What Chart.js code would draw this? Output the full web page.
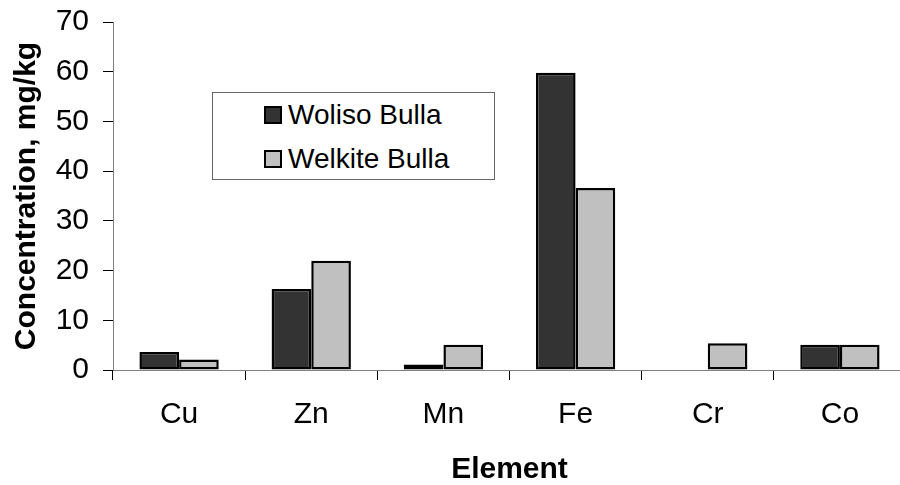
<!DOCTYPE html>
<html>
<head>
<meta charset="utf-8">
<script src="https://cdn.jsdelivr.net/npm/chart.js@4/dist/chart.umd.min.js"></script>
<style>
  html, body { margin: 0; padding: 0; background: #fff; overflow: hidden; }
  #wrap { position: relative; width: 906px; height: 485px; }
  #legend {
    position: absolute; left: 212px; top: 92px; width: 281px; height: 86px;
    border: 1px solid #666; background: #fff;
    font-family: 'Liberation Sans', Arial, sans-serif; font-size: 28px; color: #000;
  }
  #legend .item { position: absolute; left: 51px; height: 32px; line-height: 32px; white-space: nowrap; }
  #legend .box { display: inline-block; width: 14px; height: 14px; border: 2px solid #000; vertical-align: middle; margin-right: 6px; margin-top: -4px; }
</style>
</head>
<body>
<div id="wrap">
  <canvas id="chart" width="906" height="485"></canvas>
  <div id="legend"></div>
</div>
<script>
const elements = ['Cu', 'Zn', 'Mn', 'Fe', 'Cr', 'Co'];
const wolisoBulla = [3.6, 16.3, 1.1, 59.8, null, 5.1];
const welkiteBulla = [2.1, 22.0, 5.1, 36.6, 5.4, 5.1];
const yTicks = [0, 10, 20, 30, 40, 50, 60, 70];

const font = "'Liberation Sans', Arial, sans-serif";

const chart = new Chart(document.getElementById('chart'), {
  type: 'bar',
  data: {
    labels: elements,
    datasets: [
      {
        label: 'Woliso Bulla',
        data: wolisoBulla,
        backgroundColor: '#333333',
        borderColor: '#000',
        borderWidth: 2.5,
        borderSkipped: false
      },
      {
        label: 'Welkite Bulla',
        data: welkiteBulla,
        backgroundColor: '#c0c0c0',
        borderColor: '#000',
        borderWidth: 2.5,
        borderSkipped: false
      }
    ]
  },
  options: {
    responsive: false,
    animation: false,
    events: [],
    layout: { padding: { left: 0, top: 22, right: 0, bottom: 0 } },
    datasets: { bar: { categoryPercentage: 0.6, barPercentage: 1.0 } },
    plugins: { legend: { display: false }, tooltip: { enabled: false } },
    scales: {
      x: {
        grid: { drawOnChartArea: false, drawTicks: true, tickLength: 10, color: '#000', offset: true },
        border: { color: '#808080', width: 1 },
        ticks: { color: '#000', font: { family: font, size: 30 }, padding: 17, maxRotation: 0 },
        title: { display: true, text: 'Element', color: '#000', font: { family: font, size: 30, weight: 'bold', lineHeight: 1 }, padding: { top: 0, bottom: 0 } },
        afterFit: scale => { scale.height = 115; scale.paddingLeft = 0; scale.paddingRight = 0; }
      },
      y: {
        min: 0,
        max: 70,
        afterBuildTicks: scale => { scale.ticks = yTicks.map(v => ({ value: v })); },
        grid: { drawOnChartArea: false, drawTicks: true, tickLength: 10, color: '#000' },
        border: { color: '#808080', width: 1 },
        ticks: { color: '#000', font: { family: font, size: 30 }, padding: 14 },
        title: { display: true, text: 'Concentration, mg/kg', color: '#000', font: { family: font, size: 30, weight: 'bold', lineHeight: 1 }, padding: { top: 12, bottom: 0 } },
        afterFit: scale => { scale.width = 113; scale.paddingTop = 0; scale.paddingBottom = 0; }
      }
    }
  }
});

// legend built from the datasets
const legend = document.getElementById('legend');
chart.data.datasets.forEach((ds, i) => {
  const item = document.createElement('div');
  item.className = 'item';
  item.style.top = (6 + i * 44) + 'px';
  item.innerHTML = '<span class="box" style="background:' + ds.backgroundColor + '"></span>' + ds.label;
  legend.appendChild(item);
});
</script>
</body>
</html>
